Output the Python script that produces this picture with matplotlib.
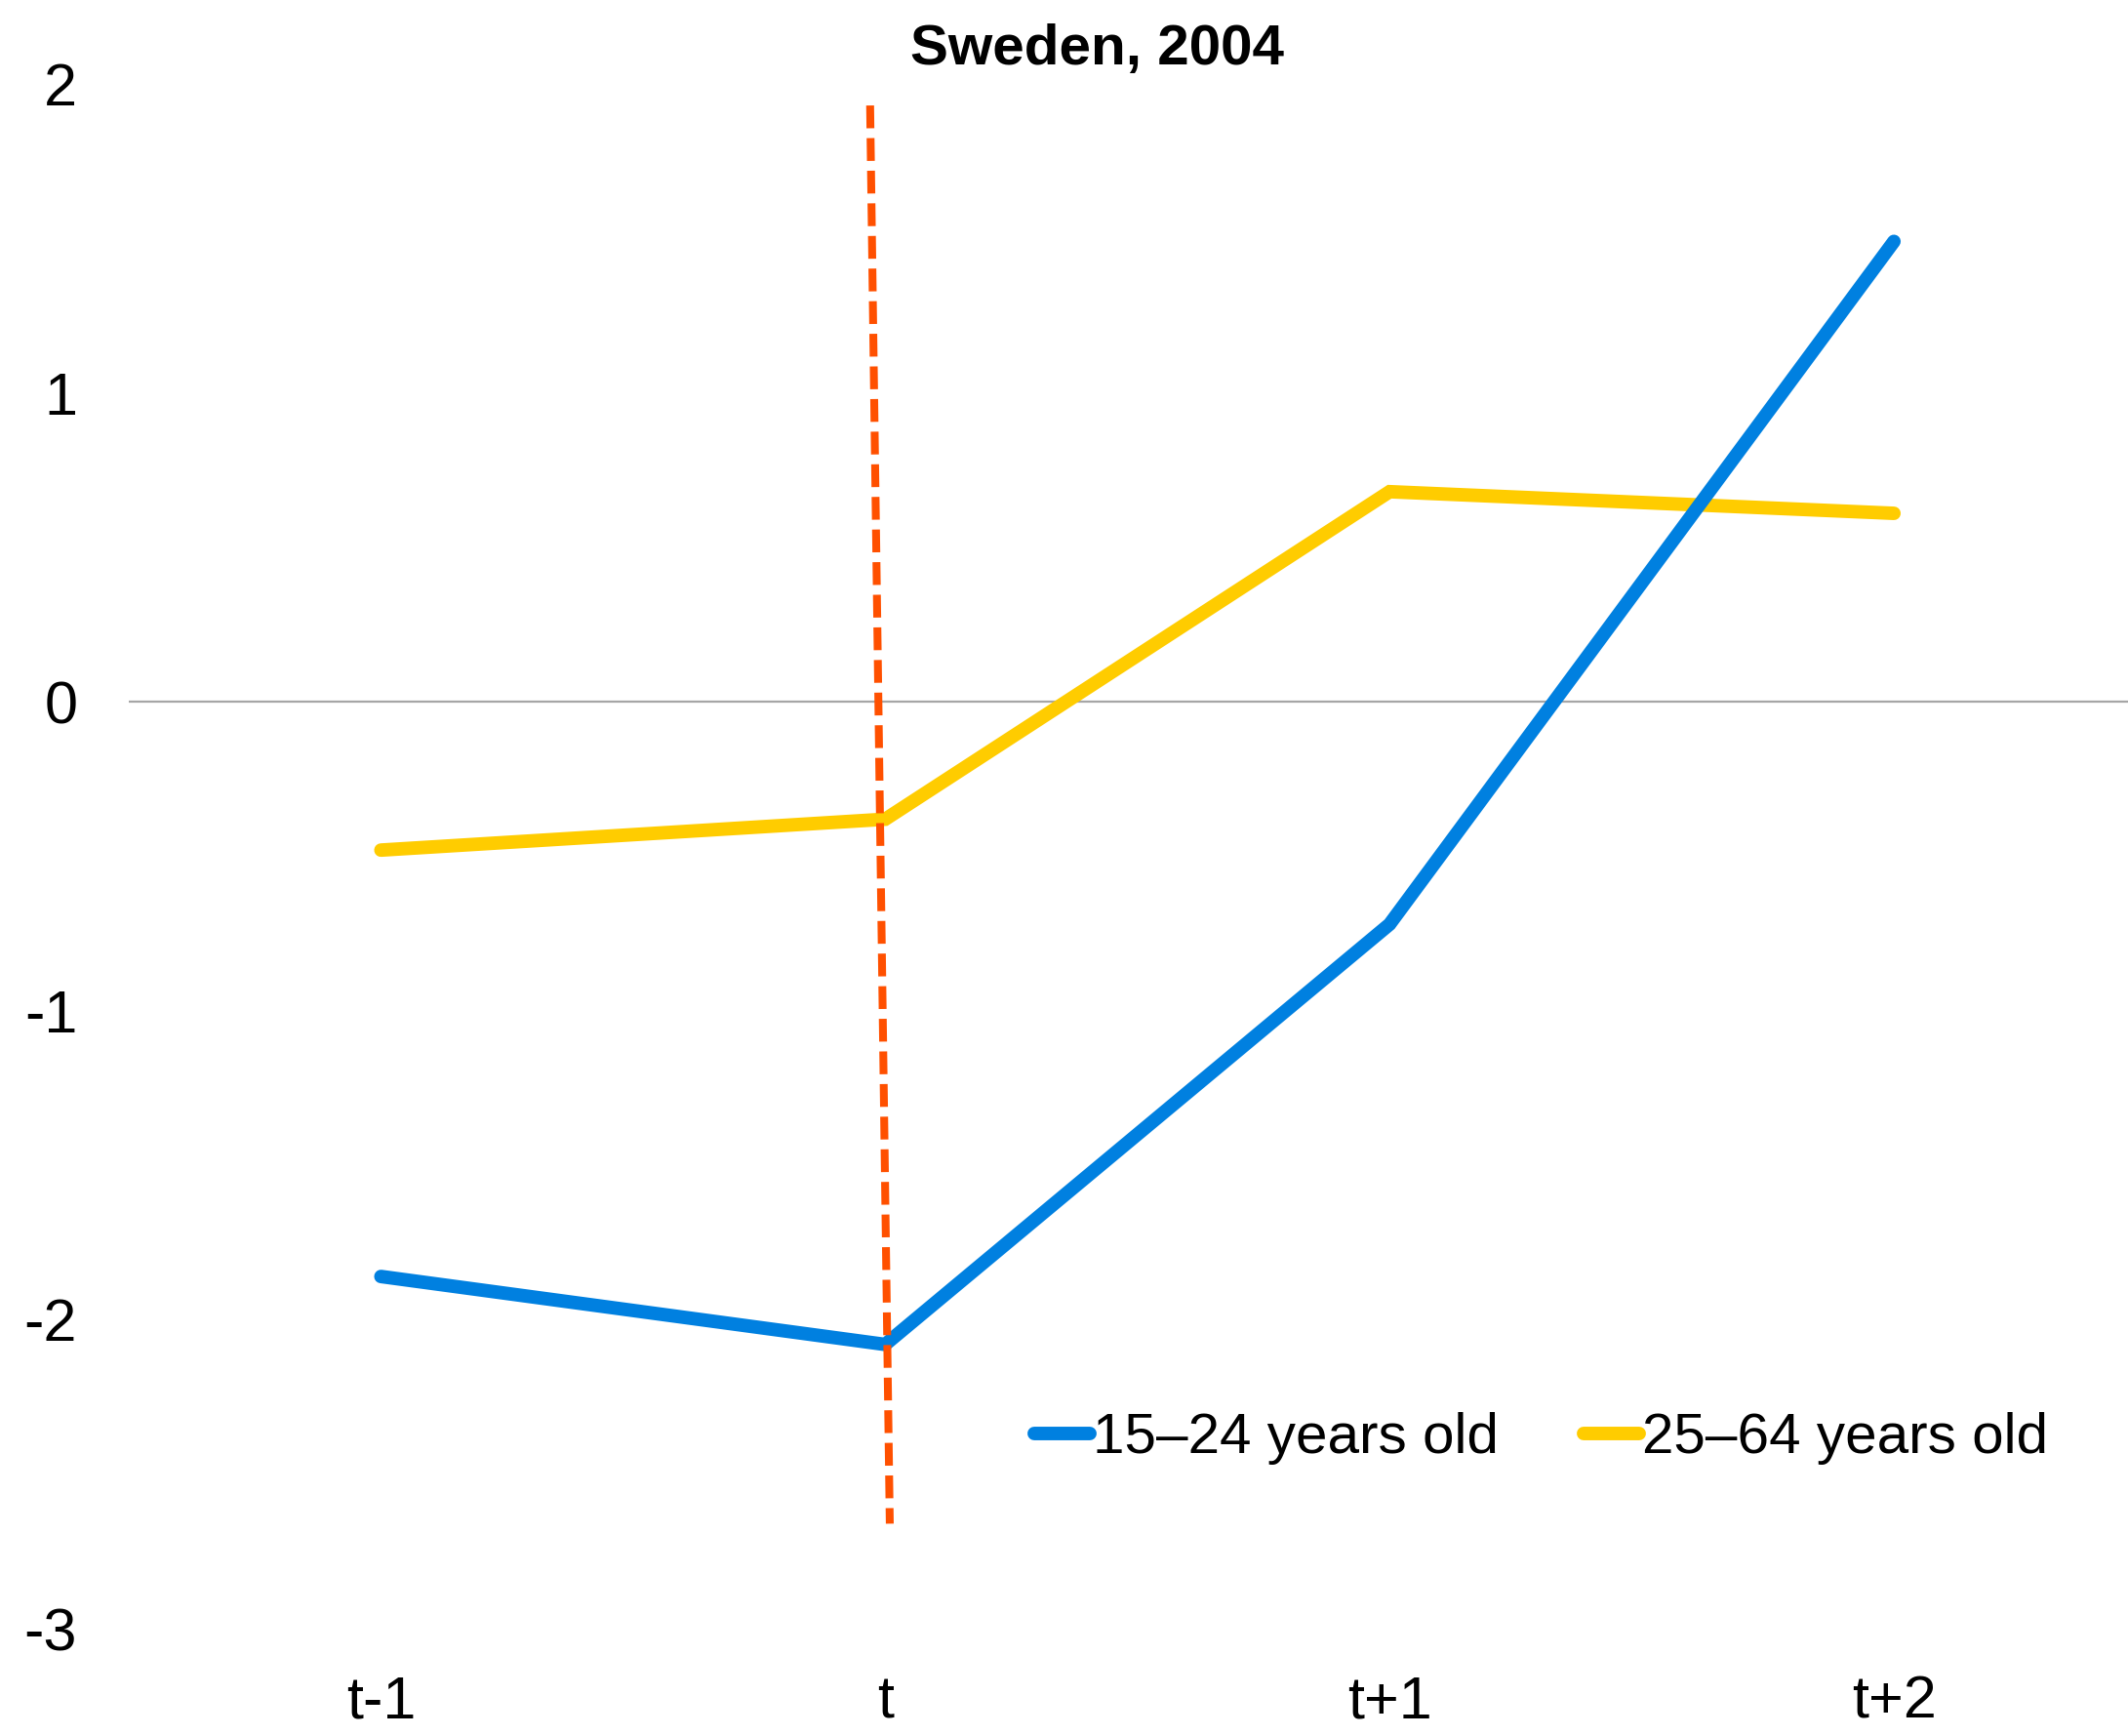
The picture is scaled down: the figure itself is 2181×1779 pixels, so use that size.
import matplotlib
matplotlib.use('Agg')
import matplotlib.pyplot as plt

periods = ['t-1', 't', 't+1', 't+2']
youth = [-1.86, -2.08, -0.72, 1.49]
adults = [-0.48, -0.38, 0.68, 0.61]
# reference marker line around period t (drawn slightly slanted in the original)
marker_x = [0.970, 1.009]
marker_y = [1.93, -2.66]

plt.rcParams['font.family'] = ['Liberation Sans', 'DejaVu Sans']

fig = plt.figure(figsize=(21.81, 17.79), dpi=100)
ax = fig.add_axes([0.0605, 0.0618, 0.948, 0.8899])

x = range(len(periods))
ax.axhline(0, color='#A6A6A6', linewidth=1.6, zorder=1)
ax.plot(x, youth, color='#0080E0', linewidth=10, solid_capstyle='round',
        solid_joinstyle='miter', label='15\u201324 years old', zorder=3)
ax.plot(x, adults, color='#FFCC00', linewidth=10, solid_capstyle='round',
        solid_joinstyle='miter', label='25\u201364 years old', zorder=2)
ax.plot(marker_x, marker_y, color='#FF5000', linewidth=5.8,
        dashes=(2.9, 1.25), dash_capstyle='butt', zorder=4)

ax.set_xlim(-0.5, 3.5)
ax.set_ylim(-3, 2)
ax.set_xticks(list(x))
ax.set_xticklabels(periods)
ax.set_yticks([-3, -2, -1, 0, 1, 2])
ax.set_yticklabels(['-3', '-2', '-1', '0', '1', '2'])
ax.tick_params(axis='both', length=0, labelsize=44)
ax.tick_params(axis='x', pad=34)
ax.tick_params(axis='y', pad=38)
for s in ax.spines.values():
    s.set_visible(False)

ax.set_title('Sweden, 2004', fontsize=42, fontweight='bold', pad=14, x=0.48)

leg = ax.legend(loc='center left', bbox_to_anchor=(0.449, 0.123), ncol=2,
                frameon=False, fontsize=42, handlelength=0.97, handletextpad=0.05,
                columnspacing=1.5, borderpad=0, borderaxespad=0)

fig.savefig('out.png', dpi=100)
